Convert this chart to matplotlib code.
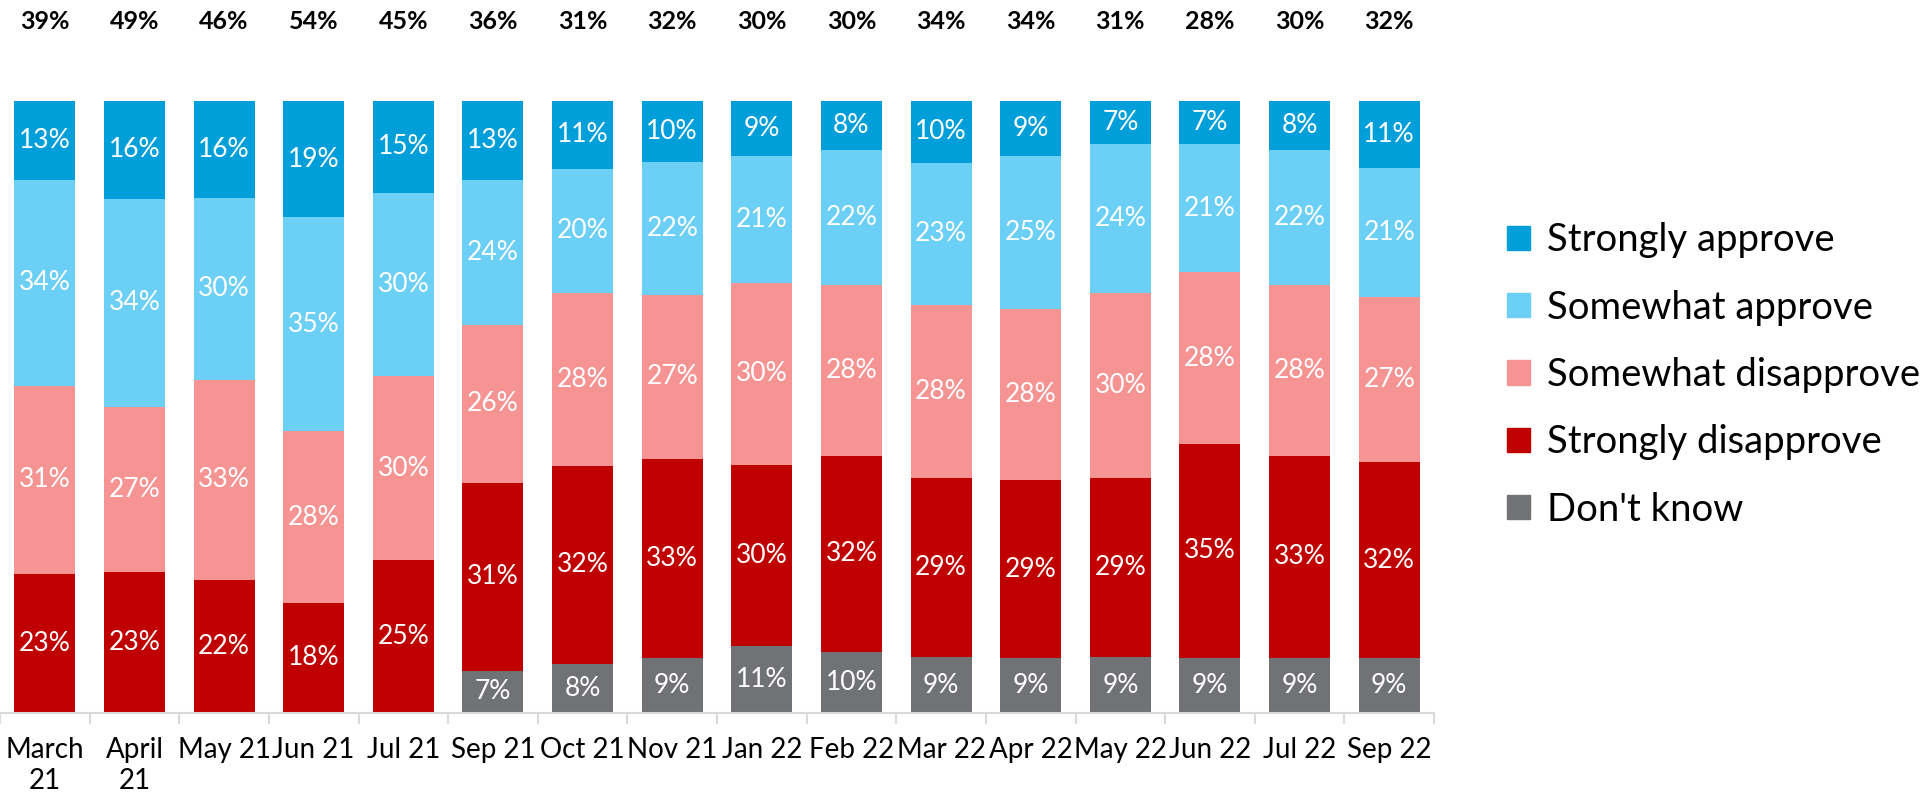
import matplotlib.pyplot as plt
import numpy as np
from matplotlib.patches import Patch

plt.rcParams['font.family'] = ['Lato', 'DejaVu Sans']

months = ['March\n21', 'April\n21', 'May 21', 'Jun 21', 'Jul 21', 'Sep 21', 'Oct 21', 'Nov 21',
          'Jan 22', 'Feb 22', 'Mar 22', 'Apr 22', 'May 22', 'Jun 22', 'Jul 22', 'Sep 22']
strongly_approve = [13, 16, 16, 19, 15, 13, 11, 10, 9, 8, 10, 9, 7, 7, 8, 11]
somewhat_approve = [34, 34, 30, 35, 30, 24, 20, 22, 21, 22, 23, 25, 24, 21, 22, 21]
somewhat_disapprove = [31, 27, 33, 28, 30, 26, 28, 27, 30, 28, 28, 28, 30, 28, 28, 27]
strongly_disapprove = [23, 23, 22, 18, 25, 31, 32, 33, 30, 32, 29, 29, 29, 35, 33, 32]
dont_know = [0, 0, 0, 0, 0, 7, 8, 9, 11, 10, 9, 9, 9, 9, 9, 9]
top_labels = [39, 49, 46, 54, 45, 36, 31, 32, 30, 30, 34, 34, 31, 28, 30, 32]

# stacked bottom -> top
series = [
    ("Don't know", dont_know, '#717276'),
    ('Strongly disapprove', strongly_disapprove, '#C00000'),
    ('Somewhat disapprove', somewhat_disapprove, '#F69494'),
    ('Somewhat approve', somewhat_approve, '#6CCFF6'),
    ('Strongly approve', strongly_approve, '#009FDA'),
]

W, H = 1929, 799
fig = plt.figure(figsize=(W / 100, H / 100), dpi=100)
ax = fig.add_axes([0, (H - 713) / H, 1434 / W, 612 / H])

x = np.arange(len(months))
totals = np.sum([np.array(s[1]) for s in series], axis=0)
bottom = np.zeros(len(months))
for name, vals, col in series:
    v = np.array(vals) / totals * 100
    ax.bar(x, v, bottom=bottom, width=0.68, color=col, label=name)
    for i in range(len(x)):
        if vals[i] > 0:
            ax.text(x[i], bottom[i] + v[i] / 2, f'{vals[i]}%', ha='center', va='center',
                    color='white', fontsize=19)
    bottom += v

for i in range(len(x)):
    ax.text(x[i], 113, f'{top_labels[i]}%', ha='center', va='center', fontsize=18,
            fontweight='bold', color='black', clip_on=False)

ax.set_xlim(-0.5, len(months) - 0.5)
ax.set_ylim(0, 100)
ax.set_yticks([])
for s in ['top', 'right', 'left']:
    ax.spines[s].set_visible(False)
ax.spines['bottom'].set_color('#D9D9D9')
ax.spines['bottom'].set_linewidth(1.5)
ax.set_xticks(x)
ax.set_xticklabels(months, fontsize=20, linespacing=1.25)
ax.tick_params(axis='x', which='major', length=0, pad=17)
ax.set_xticks(np.arange(-0.5, len(months)), minor=True)
ax.tick_params(axis='x', which='minor', length=8, width=1.5, color='#D9D9D9')

handles = [Patch(color=c, label=n) for n, _, c in series[::-1]]
fig.legend(handles=handles, loc='upper left', bbox_to_anchor=(1492 / W, 1 - 207 / H),
           frameon=False, fontsize=27.5, handlelength=0.6, handleheight=0.6,
           handletextpad=0.45, labelspacing=0.82, borderaxespad=0)

fig.savefig('out.png', dpi=100)
